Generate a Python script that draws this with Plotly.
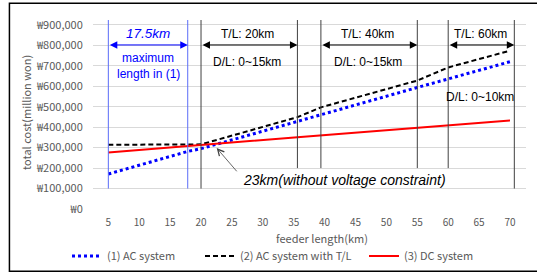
import plotly.graph_objects as go

# ---- data ----
ac_km = [5, 17.8, 20, 35.6, 55, 70]
ac_cost = [171000, 281000, 295000, 429000, 594000, 720000]

tl_km = [5, 20, 35.6, 39.4, 55, 60, 70]
tl_cost = [314000, 316000, 449000, 497000, 628000, 692000, 774000]

dc_km = [5, 20, 35.6, 70]
dc_cost = [276000, 311000, 351000, 433000]

series_names = ["(1) AC system", "(2) AC system with T/L", "(3) DC system"]

x_ticks = list(range(5, 75, 5))
y_ticks = list(range(0, 1000000, 100000))
y_tick_labels = ["₩" + f"{v:,}" for v in y_ticks]

# vertical marker lines (km, bottom value)
blue_lines = [(5, 100000), (17.85, 100000)]
black_lines = [(20, 100000), (35.6, 200000), (39.4, 200000), (55, 200000), (60, 200000), (70.7, 100000)]

TOP = 924000
ARROW_Y = 802000

gray = "#595959"
ui_font = "Noto Sans CJK KR, Noto Sans, sans-serif"
lab_font = "Liberation Sans, Arial, sans-serif"

fig = go.Figure()
fig.add_trace(go.Scatter(x=ac_km, y=ac_cost, mode="lines", name=series_names[0], legend="legend",
                         line=dict(color="#0000ff", width=3, dash="3px,3px")))
fig.add_trace(go.Scatter(x=tl_km, y=tl_cost, mode="lines", name=series_names[1], legend="legend2",
                         line=dict(color="#000000", width=2, dash="5px,3px")))
fig.add_trace(go.Scatter(x=dc_km, y=dc_cost, mode="lines", name=series_names[2], legend="legend3",
                         line=dict(color="#ff0000", width=2)))

shapes = []
for xk, yb in blue_lines:
    shapes.append(dict(type="line", xref="x", yref="y", x0=xk, x1=xk, y0=yb, y1=TOP,
                       line=dict(color="#5a6cf8", width=1)))
for xk, yb in black_lines:
    shapes.append(dict(type="line", xref="x", yref="y", x0=xk, x1=xk, y0=yb, y1=TOP,
                       line=dict(color="#404040", width=1)))
# outer frame
shapes.append(dict(type="rect", xref="paper", yref="paper", x0=-0.193, x1=1.03, y0=-0.33, y1=1.088,
                   line=dict(color="#000000", width=1.5), layer="below"))

ann = []

def dbl_arrow(x0, x1, color):
    ann.append(dict(x=x1, y=ARROW_Y, ax=x0, ay=ARROW_Y, xref="x", yref="y", axref="x", ayref="y",
                    text="", showarrow=True, arrowside="end+start", arrowhead=2, startarrowhead=2,
                    arrowsize=1.5, startarrowsize=1.5, arrowwidth=1, arrowcolor=color, standoff=0, startstandoff=0))

dbl_arrow(5, 17.85, "#0000ff")
dbl_arrow(20, 35.6, "#000000")
dbl_arrow(39.4, 55, "#000000")
dbl_arrow(60, 70.7, "#000000")

def txt(x, y, s, size=12, color="#000000", family=lab_font, xanchor="center"):
    ann.append(dict(x=x, y=y, xref="x", yref="y", text=s, showarrow=False, xanchor=xanchor,
                    yanchor="middle", font=dict(family=family, size=size, color=color)))

txt(11.47, 859000, "<i>17.5km</i>", size=13.5, color="#0000ff")
txt(11.45, 737000, "maximum", color="#0000ff")
txt(11.45, 661000, "length in (1)", color="#0000ff")
txt(27.6, 856000, "T/L: 20km")
txt(27.4, 720000, "D/L: 0~15km")
txt(47.0, 856000, "T/L: 40km")
txt(47.0, 720000, "D/L: 0~15km")
txt(65.15, 856000, "T/L: 60km")
txt(65.15, 547000, "D/L: 0~10km")
txt(26.4, 143000, "<i>23km(without voltage constraint)</i>", size=14, xanchor="left")
# pointer to the crossing point
ann.append(dict(x=22.54, y=298000, ax=25.99, ay=177000, xref="x", yref="y", axref="x", ayref="y",
                text="", showarrow=True, arrowhead=5, arrowsize=1.6, arrowwidth=0.8,
                arrowcolor="#404040", standoff=0))

# axis titles
ann.append(dict(x=0.529, y=-0.155, xref="paper", yref="paper", text="feeder length(km)", showarrow=False,
                xanchor="center", yanchor="middle", font=dict(family=ui_font, size=11, color=gray)))
ann.append(dict(x=-0.155, y=0.513, xref="paper", yref="paper", text="total cost(million won)", showarrow=False,
                textangle=-90, xanchor="center", yanchor="middle", font=dict(family=ui_font, size=11, color=gray)))

def leg(xpx):
    return dict(orientation="h", x=xpx / 537, xref="container", xanchor="left",
                y=1 - 256 / 275, yref="container", yanchor="middle",
                font=dict(family=ui_font, size=11, color=gray), bgcolor="rgba(0,0,0,0)",
                itemwidth=30)

fig.update_layout(
    width=537, height=275,
    margin=dict(l=93, r=11, t=20, b=66, autoexpand=False),
    paper_bgcolor="white", plot_bgcolor="white",
    showlegend=True,
    legend=leg(67), legend2=leg(200), legend3=leg(364),
    shapes=shapes,
    annotations=ann,
    xaxis=dict(range=[2.52, 72.59], tickmode="array", tickvals=x_ticks, ticktext=[str(v) for v in x_ticks],
               showgrid=False, zeroline=False, showline=False, ticks="outside", ticklen=4,
               tickcolor="rgba(0,0,0,0)", tickfont=dict(family=ui_font, size=10, color=gray)),
    yaxis=dict(range=[0, TOP], tickmode="array", tickvals=y_ticks, ticktext=y_tick_labels,
               showgrid=True, gridcolor="#d9d9d9", gridwidth=1, zeroline=False, showline=False,
               ticks="outside", ticklen=7, tickcolor="rgba(0,0,0,0)",
               tickfont=dict(family=ui_font, size=11, color=gray)),
)

fig.write_html("out.html", config={"displayModeBar": False},
               post_script="document.body.style.margin='0';document.body.style.padding='0';")
